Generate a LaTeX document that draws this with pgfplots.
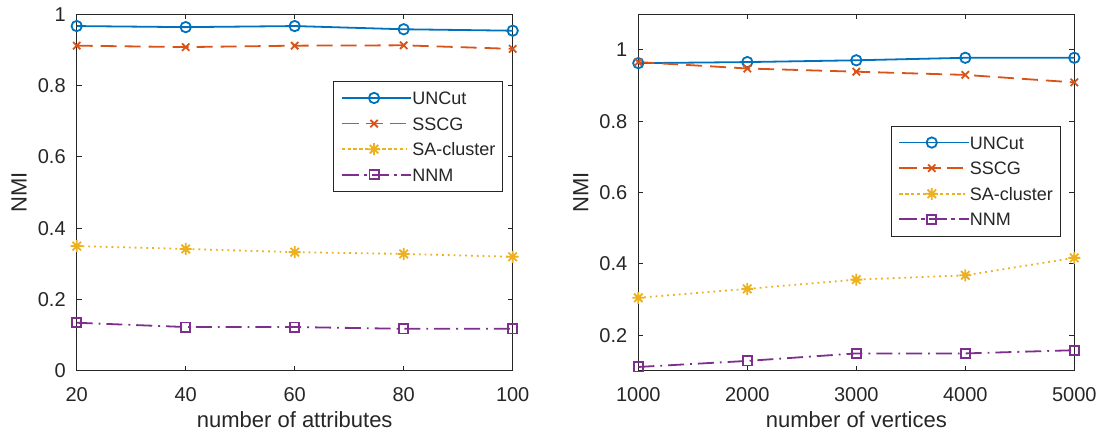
\documentclass[border=0pt]{standalone}
\usepackage{fontspec}
\setmainfont{Liberation Sans}
\usepackage{pgfplots}
\usepackage{pgfplotstable}
\pgfplotsset{compat=1.18}
\definecolor{mblue}{rgb}{0,0.447,0.741}
\definecolor{mred}{rgb}{0.85,0.325,0.098}
\definecolor{myellow}{rgb}{0.929,0.694,0.125}
\definecolor{mpurple}{rgb}{0.494,0.184,0.556}
\definecolor{mgray}{rgb}{0.15,0.15,0.15}

\pgfdeclareplotmark{mstar}{%
 \pgfpathmoveto{\pgfqpoint{0pt}{\pgfplotmarksize}}\pgfpathlineto{\pgfqpoint{0pt}{-\pgfplotmarksize}}%
 \pgfpathmoveto{\pgfqpoint{\pgfplotmarksize}{0pt}}\pgfpathlineto{\pgfqpoint{-\pgfplotmarksize}{0pt}}%
 \pgfpathmoveto{\pgfqpoint{0.707\pgfplotmarksize}{0.707\pgfplotmarksize}}\pgfpathlineto{\pgfqpoint{-0.707\pgfplotmarksize}{-0.707\pgfplotmarksize}}%
 \pgfpathmoveto{\pgfqpoint{0.707\pgfplotmarksize}{-0.707\pgfplotmarksize}}\pgfpathlineto{\pgfqpoint{-0.707\pgfplotmarksize}{0.707\pgfplotmarksize}}%
 \pgfusepathqstroke}

\pgfplotstableread{
x uncut sscg sa nnm
20 0.967 0.912 0.350 0.135
40 0.964 0.908 0.342 0.123
60 0.967 0.912 0.333 0.123
80 0.958 0.913 0.328 0.118
100 0.954 0.903 0.320 0.118
}\attrtable

\pgfplotstableread{
x uncut sscg sa nnm
1000 0.963 0.966 0.305 0.111
2000 0.966 0.948 0.330 0.128
3000 0.971 0.939 0.356 0.149
4000 0.978 0.930 0.368 0.149
5000 0.978 0.909 0.417 0.158
}\verttable

\pgfplotsset{
 mystyle/.style={
  width=218pt, height=178.3pt, scale only axis,
  clip=false,
  axis line style={mgray, line width=0.5pt},
  tick style={mgray, line width=0.5pt},
  major tick length=2.5pt, tick align=inside,
  ticklabel style={font=\fontsize{10}{12}\selectfont, text=mgray},
  xticklabel style={yshift=-4.8pt},
  yticklabel style={xshift=-2pt},
  label style={font=\fontsize{11}{13}\selectfont, text=mgray},
  xlabel style={at={(axis description cs:0.5,-0.138)}, anchor=center},
  ylabel style={at={(axis description cs:-0.132,0.5)}, anchor=center},
  /pgf/number format/assume math mode=true,
  /pgf/number format/1000 sep={},
  scaled ticks=false,
  legend cell align=left,
  legend style={draw=mgray, fill=white,
    font=\fontsize{9}{10}\selectfont, text=mgray,
    inner xsep=3.7pt, inner ysep=1.9pt, row sep=0pt,
    nodes={inner xsep=0pt, inner ysep=3.15pt, text height=6.5pt, text depth=0pt}},
  legend image code/.code={%
    \path (0pt,0pt) -- (34.8pt,0pt);
    \draw[mark repeat=2, mark phase=2] plot coordinates {(0.8pt,0pt) (16.15pt,0pt) (31.5pt,0pt)};
  },
 },
 s1/.style={mblue, line width=0.9pt, solid, mark=o, mark size=2.6pt},
 s2/.style={mred, line width=0.9pt, dash pattern=on 8pt off 4pt, mark=x, mark size=2.6pt, mark options={solid}},
 s3/.style={myellow, line width=0.9pt, dash pattern=on 0.9pt off 2pt, mark=mstar, mark size=3pt, mark options={solid}},
 s4/.style={mpurple, line width=0.9pt, dash pattern=on 8pt off 3pt on 0.9pt off 3pt, mark=square, mark size=2.3pt, mark options={solid}},
}

\begin{document}
\begin{tikzpicture}
\begin{axis}[mystyle, at={(0pt,0pt)}, anchor=south west,
  xmin=20, xmax=100, ymin=0, ymax=1,
  xtick={20,40,60,80,100}, ytick={0,0.2,0.4,0.6,0.8,1},
  xlabel={number of attributes}, ylabel={NMI},
  legend style={at={(rel axis cs:0.978,0.813)}, anchor=north east}]
\addplot[s1] table[x=x, y=uncut] {\attrtable};
\addplot[s2] table[x=x, y=sscg] {\attrtable};
\addplot[s3] table[x=x, y=sa] {\attrtable};
\addplot[s4] table[x=x, y=nnm] {\attrtable};
\legend{UNCut, SSCG, SA-cluster, NNM}
\end{axis}
\begin{axis}[mystyle, at={(280.8pt,0pt)}, anchor=south west,
  xmin=1000, xmax=5000, ymin=0.1, ymax=1.1,
  xtick={1000,2000,3000,4000,5000}, ytick={0.2,0.4,0.6,0.8,1},
  xlabel={number of vertices}, ylabel={NMI},
  legend style={at={(rel axis cs:0.969,0.688)}, anchor=north east}]
\addplot[s1] table[x=x, y=uncut] {\verttable};
\addplot[s2] table[x=x, y=sscg] {\verttable};
\addplot[s3] table[x=x, y=sa] {\verttable};
\addplot[s4] table[x=x, y=nnm] {\verttable};
\legend{UNCut, SSCG, SA-cluster, NNM}
\end{axis}
\pgfresetboundingbox
\path (-38.35pt,-30.5pt) rectangle (510.15pt,185.45pt);
\end{tikzpicture}
\end{document}
